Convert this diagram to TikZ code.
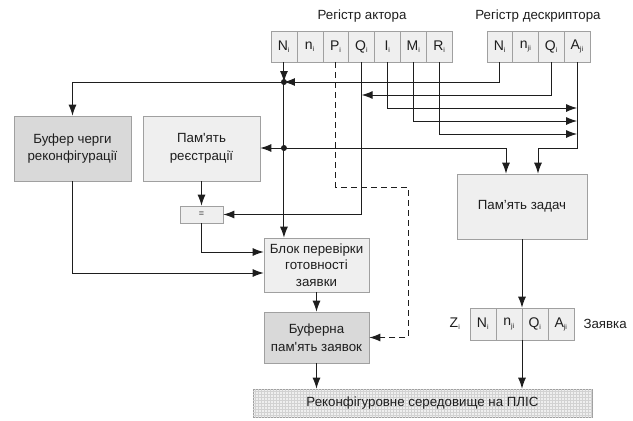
\documentclass[tikz,border=0pt]{standalone}
\usepackage{fontspec}
\setmainfont{Liberation Sans}[Ligatures=TeXOff]
\usetikzlibrary{arrows.meta,patterns}
\definecolor{lightbox}{HTML}{EFEFEF}
\definecolor{darkbox}{HTML}{D9D9D9}
\definecolor{edge}{HTML}{A0A0A0}
\definecolor{ink}{HTML}{1E1E1E}
\newcommand{\sbi}[2]{#1\textsubscript{\fontsize{7}{7}\selectfont #2}}
\begin{document}
\begin{tikzpicture}[x=1pt,y=-1pt,
  txt/.style={font=\fontsize{13.3}{17}\selectfont, text=ink},
  box/.style={draw=edge, line width=0.6pt, align=center, inner sep=0pt, font=\fontsize{13.3}{17.5}\selectfont, text=ink},
  lbox/.style={box, fill=lightbox},
  dbox/.style={box, fill=darkbox},
  cell/.style={draw=edge, fill=lightbox, line width=0.6pt, minimum height=31pt, inner sep=0pt, font=\fontsize{14}{14}\selectfont, text=ink},
  arr/.style={draw=ink, line width=1pt, -{Latex[length=11pt,width=8pt]}},
  dot/.style={circle, fill=ink, inner sep=0pt, minimum size=6pt}
]
\useasboundingbox (0,0) rectangle (633,421);

% titles
\node[txt] (tact) at (362,16) {Регістр актора};
\node[txt] (tdesc) at (538,16) {Регістр дескриптора};

% actor register
\foreach \k/\t in {1/\sbi{N}{i},2/\sbi{n}{i},3/\sbi{P}{i},4/\sbi{Q}{i},5/\sbi{I}{i},6/\sbi{M}{i},7/\sbi{R}{i}}{
  \node[cell, minimum width=25.9pt] (a\k) at ({271+25.9*(\k-0.5)},46.5) {\t};
}
% descriptor register
\foreach \k/\t in {1/\sbi{N}{i},2/\sbi{n}{ji},3/\sbi{Q}{i},4/\sbi{A}{ji}}{
  \node[cell, minimum width=25.75pt] (d\k) at ({487+25.75*(\k-0.5)},46.5) {\t};
}
% request register
\foreach \k/\t in {1/\sbi{N}{i},2/\sbi{n}{ji},3/\sbi{Q}{i},4/\sbi{A}{ji}}{
  \node[cell, minimum width=26pt, minimum height=32pt] (z\k) at ({470+26*(\k-0.5)},324) {\t};
}
\node[txt, font=\fontsize{14}{14}\selectfont] (zlab) at (455,324) {\sbi{Z}{i}};
\node[txt, anchor=west] (zname) at (580,324) {Заявка};

% boxes
\node[dbox, minimum width=117pt, minimum height=65pt] (buf) at (72.5,148.5) {Буфер черги\\реконфігурації};
\node[lbox, minimum width=117pt, minimum height=65pt] (reg) at (201.5,148.5) {Пам'ять\\реєстрації};
\node[lbox, minimum width=43pt, minimum height=17pt, font=\fontsize{9}{9}\selectfont] (eq) at (201.5,214.5) {=};
\node[lbox, minimum width=105pt, minimum height=54pt, font=\fontsize{13.3}{16.3}\selectfont] (blok) at (316.5,265) {Блок перевірки\\готовності\\заявки};
\node[dbox, minimum width=105pt, minimum height=51pt] (bufz) at (316.5,337.5) {Буферна\\пам'ять заявок};
\node[lbox, minimum width=130pt, minimum height=65pt] (zad) at (522,206.5) {Пам’ять задач};
\node[box, fill=lightbox, minimum width=339pt, minimum height=28pt, postaction={pattern=grid, pattern color=gray!35}] (rec) at (422.5,403) {};
\node[txt] (rectext) at (rec.center) {Реконфігуровне середовище на ПЛІС};

% helper coordinates
\coordinate (y82) at (0,82);
\coordinate (y95) at (0,95);
\coordinate (y108) at (0,108);
\coordinate (y121) at (0,121);
\coordinate (y134) at (0,134);
\coordinate (y148) at (0,148);
\coordinate (y187) at (0,187);
\coordinate (y252) at (0,252);
\coordinate (y273) at (0,273);
\coordinate (x408) at (408,0);
\coordinate (x506) at (506,0);
\coordinate (x538) at (538,0);
\coordinate (jA) at (a1 |- y82);
\coordinate (jB) at (a1 |- y148);

% connectors
\draw[arr] (a1.south) -- (jA);
\draw[arr] (d1.south) |- (jA);
\draw[arr] (jA) -| (buf.north);
\draw[arr] (jA) -- (a1 |- blok.north);
\draw[arr] (jB) -- (reg.east |- y148);
\draw[arr] (jB) -| (zad.north -| x506);
\draw[arr] (d4.south) |- (x538 |- y148) -- (x538 |- zad.north);
\draw[arr] (a5.south) |- (d4 |- y108);
\draw[arr] (a6.south) |- (d4 |- y121);
\draw[arr] (a7.south) |- (d4 |- y134);
\draw[arr] (d3.south) |- (a4 |- y95);
\draw[arr] (a4.south) |- (eq.east);
\draw[arr, dash pattern=on 6pt off 4pt] (a3.south) |- (x408 |- y187) |- (bufz.east);
\draw[arr] (reg.south) -- (eq.north);
\draw[arr] (eq.south) |- (blok.west |- y252);
\draw[arr] (buf.south) |- (blok.west |- y273);
\draw[arr] (blok.south) -- (bufz.north);
\draw[arr] (bufz.south) -- (bufz.south |- rec.north);
\draw[arr] (zad.south) -- (zad.south |- z2.north);
\draw[arr] (zad.south |- z2.south) -- (zad.south |- rec.north);
\node[dot] at (jA) {};
\node[dot] at (jB) {};
\end{tikzpicture}
\end{document}
